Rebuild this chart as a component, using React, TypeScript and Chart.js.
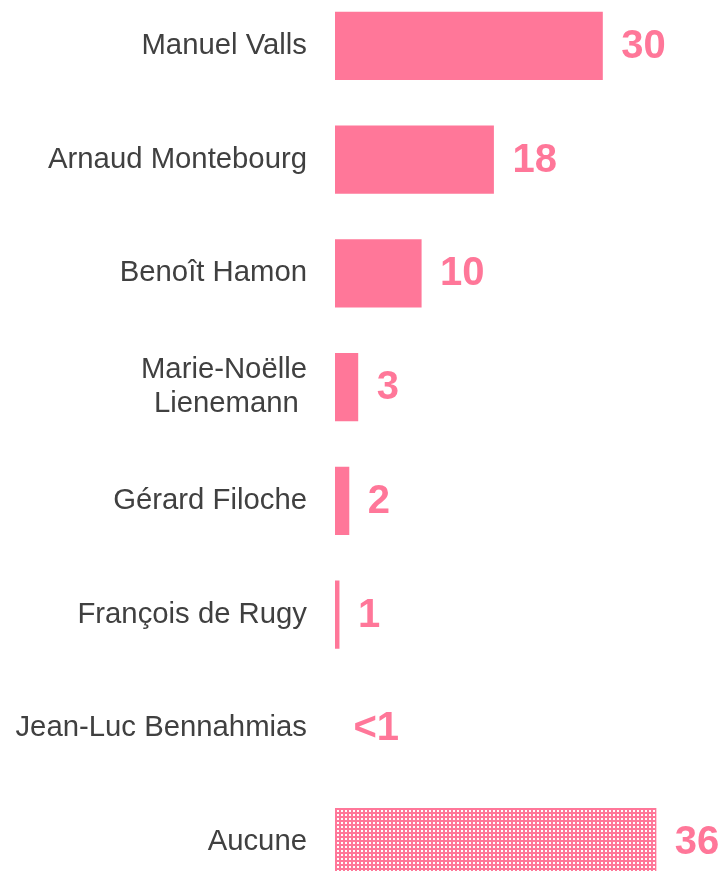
import React, { useEffect, useRef } from "react";
import { Chart, registerables } from "chart.js";

Chart.register(...registerables);

const categories: (string | string[])[] = [
  "Manuel Valls",
  "Arnaud Montebourg",
  "Benoît Hamon",
  ["Marie-Noëlle", "Lienemann "],
  "Gérard Filoche",
  "François de Rugy",
  "Jean-Luc Bennahmias",
  "Aucune",
];
const values = [30, 17.8, 9.7, 2.6, 1.6, 0.5, 0, 36];
const valueLabels = ["30", "18", "10", "3", "2", "1", "<1", "36"];

const PINK = "#FF7799";
const FONT = "'Liberation Sans', Arial, sans-serif";

function makePattern(): CanvasPattern | string {
  const c = document.createElement("canvas");
  c.width = 4;
  c.height = 4;
  const g = c.getContext("2d");
  if (!g) return PINK;
  g.fillStyle = PINK;
  g.fillRect(0, 0, 4, 4);
  g.fillStyle = "#ffffff";
  g.fillRect(1, 1, 2, 2);
  const p = g.createPattern(c, "repeat");
  return p || PINK;
}

const valueLabelPlugin = {
  id: "valueLabels",
  afterDatasetsDraw(chart: any) {
    const ctx = chart.ctx;
    const meta = chart.getDatasetMeta(0);
    ctx.save();
    ctx.font = `bold 40px ${FONT}`;
    ctx.fillStyle = PINK;
    ctx.textAlign = "left";
    ctx.textBaseline = "middle";
    meta.data.forEach((bar: any, i: number) => {
      ctx.fillText(valueLabels[i], bar.x + 18.5, bar.y + 1);
    });
    ctx.restore();
  },
};

export default function App() {
  const ref = useRef<HTMLCanvasElement | null>(null);
  useEffect(() => {
    if (!ref.current) return;
    const pattern = makePattern();
    const colors = values.map((_, i) => (i === values.length - 1 ? pattern : PINK));
    const chart = new Chart(ref.current, {
      type: "bar",
      data: {
        labels: categories,
        datasets: [
          {
            data: values,
            backgroundColor: colors as any,
            borderWidth: 0,
            categoryPercentage: 1,
            barPercentage: 0.6,
          },
        ],
      },
      options: {
        indexAxis: "y",
        animation: false,
        responsive: false,
        maintainAspectRatio: false,
        layout: { padding: 0 },
        plugins: { legend: { display: false }, tooltip: { enabled: false } },
        scales: {
          x: { display: false, min: 0, max: 43.8 },
          y: {
            grid: { display: false, drawTicks: false },
            border: { display: false },
            ticks: {
              padding: 28,
              autoSkip: false,
              color: "#404040",
              font: { family: FONT, size: 29.3, lineHeight: 1.17 },
            },
            afterFit: (scale: any) => {
              scale.width = 335;
              scale.paddingTop = 0;
              scale.paddingBottom = 0;
            },
          },
        },
      },
      plugins: [valueLabelPlugin],
    });
    return () => chart.destroy();
  }, []);
  return (
    <div style={{ position: "fixed", left: 0, top: -11, width: 726, height: 910 }}>
      <canvas ref={ref} width={726} height={910} style={{ width: 726, height: 910, display: "block" }} />
    </div>
  );
}
